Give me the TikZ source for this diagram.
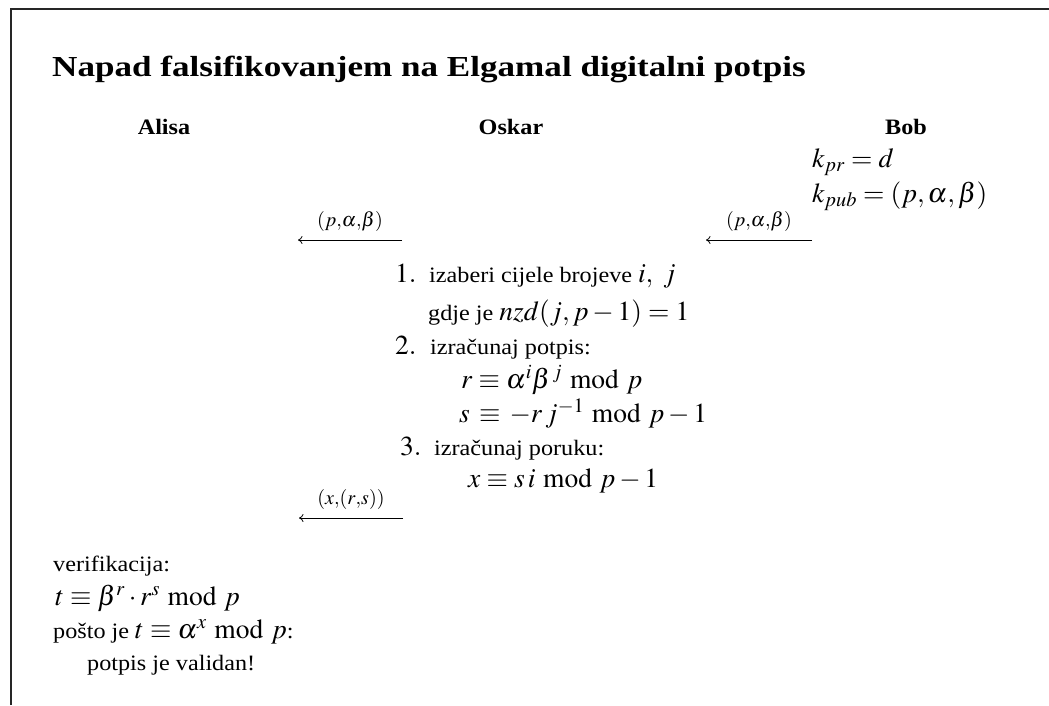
\documentclass[tikz,border=0pt]{standalone}
\usepackage{mathptmx}
\usepackage{fontspec}
\setmainfont{Liberation Serif}
\usetikzlibrary{arrows.meta}

% text is set slightly widened, math at its natural shape
\newcommand\wide[2]{\scalebox{#1}[1]{#2}}
\newcommand\tx[1]{\wide{1.1}{\fontsize{22}{26}\selectfont #1}}
\newcommand\mm[1]{{\fontsize{27.5}{32}\selectfont$#1$}}
\newcommand\nm[1]{\wide{1.1}{\fontsize{22}{26}\selectfont\bfseries #1}}
\newcommand\gap{\hspace{6pt}}

\tikzset{
  frame/.style={line width=1.8pt, black!85},
  party/.style={inner sep=0pt, anchor=base},
  txt/.style={inner sep=0pt, anchor=base west},
  msg/.style={line width=0.8pt, -{To[length=4.5pt,width=8pt]}},
  msglbl/.style={font=\fontsize{20}{24}\selectfont, inner sep=0pt, above=8pt, midway},
}

\begin{document}
\begin{tikzpicture}[x=1pt,y=-1pt]
\useasboundingbox (0,0) rectangle (1049,705);

% open frame: top and left edges
\coordinate (fbl) at (11,705);
\coordinate (ftl) at (11,9);
\coordinate (ftr) at (1049,9);
\draw[frame] (fbl) -- (ftl) -- (ftr);

% heading
\node[txt] (title) at (52,76)
  {\wide{1.21}{\fontsize{29}{34}\selectfont\bfseries Napad falsifikovanjem na Elgamal digitalni potpis}};

% the three parties
\node[party] (alisa) at (164,134) {\nm{Alisa}};
\node[party] (oskar) at (511,134) {\nm{Oskar}};
\node[party] (bob)   at (906,134) {\nm{Bob}};

% Bob's keys
\node[txt] (kpr)  at (812,167) {\mm{k_{pr}=d}};
\node[txt] (kpub) at (812,202) {\mm{k_{pub}=(p,\alpha,\beta)}};

% public key sent out
\coordinate (m1s) at (402,240);
\coordinate (m1e) at (298,240);
\coordinate (m2s) at (812,240);
\coordinate (m2e) at (706,240);
\draw[msg] (m1s) -- node[msglbl] (l1) {$(p{,}\alpha{,}\beta)$} (m1e);
\draw[msg] (m2s) -- node[msglbl] (l2) {$(p{,}\alpha{,}\beta)$} (m2e);

% Oskar's steps
\node[txt] (s1)  at (395,282) {\mm{1.}};
\node[txt] (s1t) at (429,282) {\tx{izaberi cijele brojeve}\gap\mm{i,\ j}};
\node[txt] (s1u) at (428,320) {\tx{gdje je}\gap\mm{nzd(j,p-1)=1}};
\node[txt] (s2)  at (395,354) {\mm{2.}};
\node[txt] (s2t) at (430,354) {\tx{izračunaj potpis:}};
\node[txt] (s2a) at (461,388) {\mm{r\equiv \alpha^{i}\beta^{\,j} \bmod p}};
\node[txt] (s2b) at (459,422) {\mm{s\,\equiv\,-r\,j^{-1} \bmod p-1}};
\node[txt] (s3)  at (400,455) {\mm{3.}};
\node[txt] (s3t) at (434,455) {\tx{izračunaj poruku:}};
\node[txt] (s3a) at (468,487) {\mm{x\equiv s\,i \bmod p-1}};

% forged message and signature
\coordinate (m3s) at (403,518);
\coordinate (m3e) at (299,518);
\draw[msg] (m3s) -- node[msglbl] (l3) {$(x{,}(r{,}s))$} (m3e);

% Alisa's check
\node[txt] (v1) at (53,571) {\tx{verifikacija:}};
\node[txt] (v2) at (55,605) {\mm{t\equiv\beta^{r}\cdot r^{s} \bmod p}};
\node[txt] (v3) at (53,638) {\tx{pošto je}\gap\mm{t\equiv\alpha^{x} \bmod p}\tx{:}};
\node[txt] (v4) at (87,670) {\tx{potpis je validan!}};
\end{tikzpicture}
\end{document}
